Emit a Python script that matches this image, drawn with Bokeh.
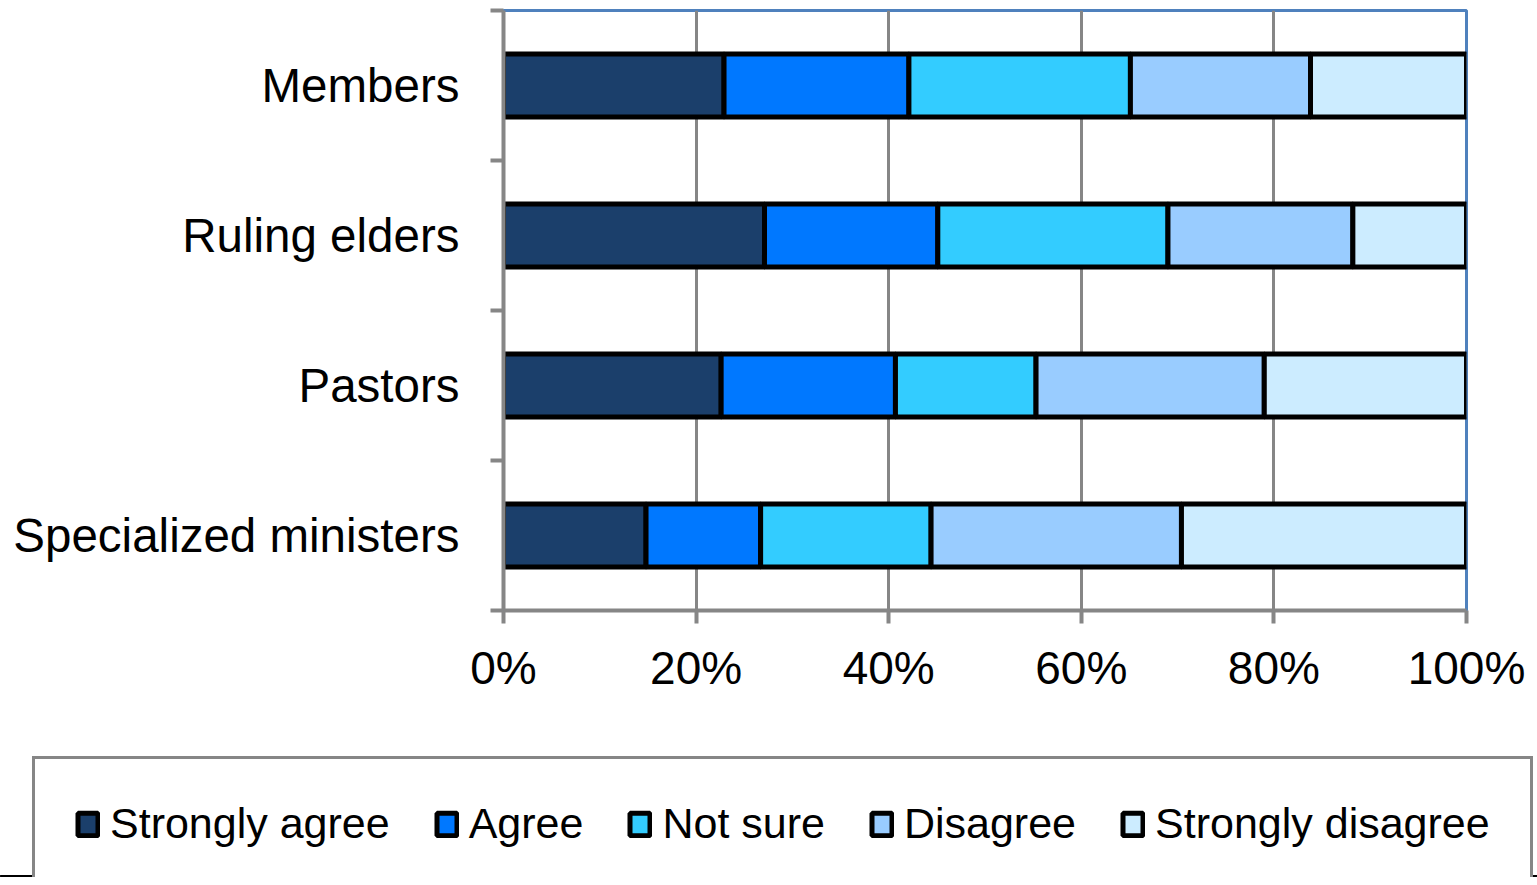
from bokeh.plotting import figure
from bokeh.models import ColumnDataSource, Range1d, FixedTicker, PrintfTickFormatter
from bokeh.embed import file_html
from bokeh.resources import INLINE

# ---- data (percent) ----
categories = ["Members", "Ruling elders", "Pastors", "Specialized ministers"]  # top to bottom
responses = ["Strongly agree", "Agree", "Not sure", "Disagree", "Strongly disagree"]
strongly_agree = [22.9, 27.1, 22.6, 14.8]
agree = [19.2, 18.0, 18.1, 11.9]
not_sure = [23.0, 23.9, 14.6, 17.7]
disagree = [18.7, 19.2, 23.7, 26.0]
strongly_disagree = [16.2, 11.8, 21.0, 29.6]
x_ticks = [0, 20, 40, 60, 80, 100]

colors = ["#1B3F6B", "#0078FF", "#33CCFF", "#99CCFF", "#CCECFF"]

n = len(categories)
ypos = [n - i - 0.5 for i in range(n)]
keys = ["sa", "a", "ns", "d", "sd"]
source = ColumnDataSource(dict(y=ypos, sa=strongly_agree, a=agree, ns=not_sure,
                               d=disagree, sd=strongly_disagree))

FONT = "Liberation Sans"
GRAY = "#868686"

# ---------------- main chart ----------------
p = figure(width=1529, height=740, output_backend="svg", toolbar_location=None,
           x_range=Range1d(0, 100), y_range=Range1d(0, n),
           min_border_left=503, min_border_right=63, min_border_top=10, min_border_bottom=130)

p.hbar_stack(keys, y="y", height=0.42, color=colors, line_color="black", line_width=5,
             source=source)

xa = p.xaxis[0]
xa.ticker = FixedTicker(ticks=x_ticks, minor_ticks=[])
xa.formatter = PrintfTickFormatter(format="%d%%")
xa.axis_line_color = GRAY
xa.axis_line_width = 4
xa.major_tick_line_color = GRAY
xa.major_tick_line_width = 4
xa.major_tick_out = 13
xa.major_tick_in = 0
xa.minor_tick_line_color = None
xa.major_label_text_font = FONT
xa.major_label_text_font_size = "46px"
xa.major_label_text_color = "black"
xa.major_label_standoff = 18

ya = p.yaxis[0]
ya.ticker = FixedTicker(ticks=ypos, minor_ticks=list(range(n + 1)))
ya.major_label_overrides = {y: c for y, c in zip(ypos, categories)}
ya.axis_line_color = GRAY
ya.axis_line_width = 4
ya.major_tick_line_color = None
ya.major_tick_out = 0
ya.major_tick_in = 0
ya.minor_tick_line_color = GRAY
ya.minor_tick_line_width = 4
ya.minor_tick_out = 13
ya.minor_tick_in = 0
ya.major_label_text_font = FONT
ya.major_label_text_font_size = "47.5px"
ya.major_label_text_color = "black"
ya.major_label_standoff = 31

p.xgrid.ticker = FixedTicker(ticks=x_ticks)
p.xgrid.grid_line_color = GRAY
p.xgrid.grid_line_width = 3
p.ygrid.grid_line_color = None

p.outline_line_color = "#4F81BD"
p.outline_line_width = 3

# ---------------- legend strip (separate root, full-width frame) ----------------
# the same stacked bars are drawn out of view; only their legend is visible
pl = figure(width=1537, height=137, output_backend="svg", toolbar_location=None,
            x_range=Range1d(0, 100), y_range=Range1d(100, 101),
            x_axis_location=None, y_axis_location=None,
            min_border_left=0, min_border_right=0, min_border_top=0, min_border_bottom=0)
pl.outline_line_color = None
pl.grid.visible = False
pl.hbar_stack(keys, y="y", height=0.42, color=colors, line_color="black", line_width=5,
              source=source, legend_label=responses)

lg = pl.legend[0]
lg.orientation = "horizontal"
lg.location = (32, -14)
lg.label_text_font = FONT
lg.label_text_font_size = "43px"
lg.label_text_color = "black"
lg.glyph_width = 25
lg.glyph_height = 28
lg.label_standoff = 10
lg.spacing = 44
lg.padding = 40
lg.margin = 0
lg.border_line_color = GRAY
lg.border_line_alpha = 1.0
lg.border_line_width = 3
lg.background_fill_color = "white"
lg.background_fill_alpha = 1.0

open("out.html", "w").write(file_html((p, pl), INLINE))
